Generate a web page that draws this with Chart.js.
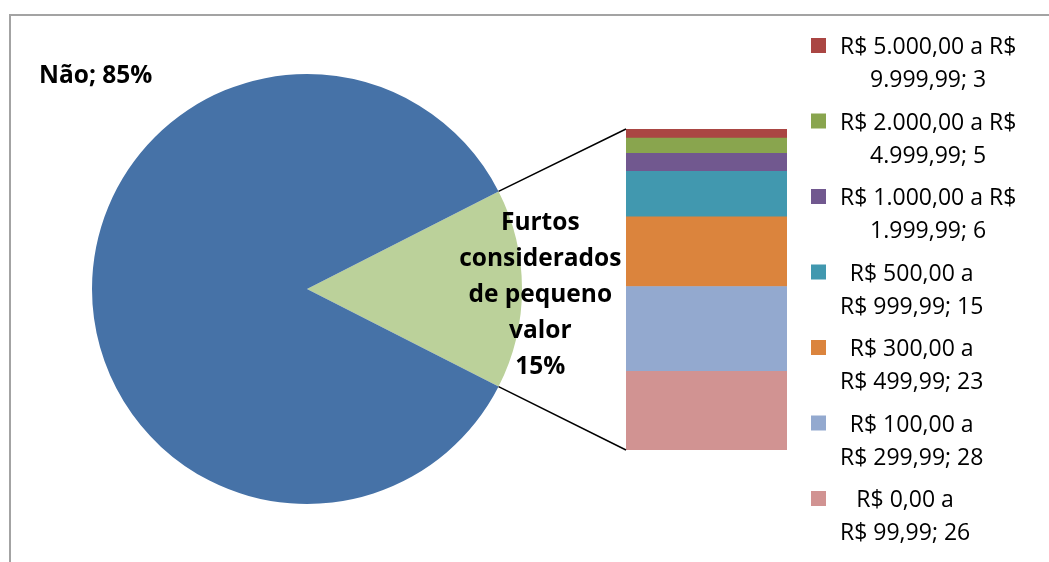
<!DOCTYPE html>
<html lang="pt-BR">
<head>
<meta charset="utf-8">
<title>Furtos de pequeno valor</title>
<script src="https://cdn.jsdelivr.net/npm/chart.js@4/dist/chart.umd.min.js"></script>
<style>
  html, body { margin: 0; padding: 0; background: #fff; }
  #wrap { position: relative; width: 1049px; height: 562px; overflow: hidden; }
  #frame {
    position: absolute; left: 9px; top: 14px; right: -4px; bottom: -4px;
    border-top: 2px solid #a3a3a3; border-left: 2px solid #a3a3a3;
  }
  canvas { position: absolute; left: 0; top: 0; }
</style>
</head>
<body>
<div id="wrap">
  <div id="frame"></div>
  <canvas id="pieChart" width="1049" height="562"></canvas>
  <canvas id="barChart" width="1049" height="562"></canvas>
</div>
<script>
// pizza principal (em %)
const pieLabels = ['Furtos considerados de pequeno valor', 'Não'];
const pieValues = [15, 85];
const pieColors = ['#BBD19A', '#4672A7'];

// detalhamento da fatia verde, de baixo para cima
const faixas = [
  ['R$ 0,00 a', 'R$ 99,99'],
  ['R$ 100,00 a', 'R$ 299,99'],
  ['R$ 300,00 a', 'R$ 499,99'],
  ['R$ 500,00 a', 'R$ 999,99'],
  ['R$ 1.000,00 a R$', '1.999,99'],
  ['R$ 2.000,00 a R$', '4.999,99'],
  ['R$ 5.000,00 a R$', '9.999,99']
];
const quantidades = [26, 28, 23, 15, 6, 5, 3];
const faixaColors = ['#D19392', '#93A9CF', '#DB843D', '#4198AF', '#71588F', '#89A54E', '#AA4643'];

const pieTotal = pieValues.reduce((a, b) => a + b, 0);
const qtdTotal = quantidades.reduce((a, b) => a + b, 0);

const boldFont = 'bold 24.5px "Open Sans"';
const legendFont = '23px "Open Sans"';

function wrapWords(ctx, text, maxWidth) {
  const lines = [];
  let line = '';
  text.split(' ').forEach(word => {
    const test = line ? line + ' ' + word : word;
    if (line && ctx.measureText(test).width > maxWidth) {
      lines.push(line);
      line = word;
    } else {
      line = test;
    }
  });
  if (line) lines.push(line);
  return lines;
}

// rótulos das fatias
const pieLabelsPlugin = {
  id: 'pieLabels',
  afterDatasetsDraw(chart) {
    const ctx = chart.ctx;
    const arc = chart.getDatasetMeta(0).data[0];
    ctx.save();
    ctx.fillStyle = '#000';
    ctx.font = boldFont;

    // "Não" fica fora da pizza, no canto superior esquerdo
    ctx.textAlign = 'left';
    ctx.fillText(pieLabels[1] + '; ' + Math.round(pieValues[1] / pieTotal * 100) + '%', 39, 83);

    // fatia verde: nome quebrado em linhas + porcentagem
    const lines = wrapWords(ctx, pieLabels[0], 172);
    lines.push(Math.round(pieValues[0] / pieTotal * 100) + '%');
    ctx.textAlign = 'center';
    const cx = arc.x + arc.outerRadius * 1.085;
    const firstBase = arc.y - 59;
    lines.forEach((l, i) => ctx.fillText(l, cx, firstBase + i * 36));
    ctx.restore();
  }
};

const pieChart = new Chart(document.getElementById('pieChart'), {
  type: 'pie',
  data: {
    labels: pieLabels,
    datasets: [{ data: pieValues, backgroundColor: pieColors, borderWidth: 0 }]
  },
  options: {
    responsive: false,
    animation: false,
    // centraliza a fatia verde no lado direito
    rotation: 90 - pieValues[0] / pieTotal * 180,
    layout: { padding: { left: 92, right: 527, top: 74, bottom: 58 } },
    plugins: { legend: { display: false }, tooltip: { enabled: false } }
  },
  plugins: [pieLabelsPlugin]
});

// linhas ligando a fatia verde à barra
const linksPlugin = {
  id: 'links',
  afterDraw(chart) {
    const arc = pieChart.getDatasetMeta(0).data[0];
    const top = chart.getDatasetMeta(faixas.length - 1).data[0];
    const bottom = chart.getDatasetMeta(0).data[0];
    const left = top.x - top.width / 2;
    const r = arc.outerRadius;
    const ctx = chart.ctx;
    ctx.save();
    ctx.strokeStyle = '#000';
    ctx.lineWidth = 1.5;
    ctx.beginPath();
    ctx.moveTo(arc.x + r * Math.cos(arc.startAngle), arc.y + r * Math.sin(arc.startAngle));
    ctx.lineTo(left, top.y);
    ctx.moveTo(arc.x + r * Math.cos(arc.endAngle), arc.y + r * Math.sin(arc.endAngle));
    ctx.lineTo(left, bottom.base);
    ctx.stroke();
    ctx.restore();
  }
};

// legenda à direita, em ordem inversa (maior faixa em cima)
const legendPlugin = {
  id: 'faixasLegend',
  afterDraw(chart) {
    const ctx = chart.ctx;
    ctx.save();
    ctx.font = legendFont;
    ctx.textAlign = 'center';
    const boxX = 811, boxSize = 15;
    for (let k = 0; k < faixas.length; k++) {
      const i = faixas.length - 1 - k;
      const y0 = 38 + k * 75.5;
      ctx.fillStyle = faixaColors[i];
      ctx.fillRect(boxX, y0, boxSize, boxSize);
      const lines = [faixas[i][0], faixas[i][1] + '; ' + quantidades[i]];
      const w = Math.max(...lines.map(l => ctx.measureText(l).width));
      const cx = boxX + boxSize + 14 + w / 2;
      ctx.fillStyle = '#000';
      lines.forEach((l, j) => ctx.fillText(l, cx, y0 + 16 + j * 33));
    }
    ctx.restore();
  }
};

const barChart = new Chart(document.getElementById('barChart'), {
  type: 'bar',
  data: {
    labels: [''],
    datasets: faixas.map((f, i) => ({
      label: f.join(' '),
      data: [quantidades[i]],
      backgroundColor: faixaColors[i],
      borderWidth: 0,
      barPercentage: 1,
      categoryPercentage: 1
    }))
  },
  options: {
    responsive: false,
    animation: false,
    layout: { padding: { left: 626, right: 262, top: 129, bottom: 112 } },
    scales: {
      x: { stacked: true, display: false },
      y: { stacked: true, display: false, min: 0, max: qtdTotal }
    },
    plugins: { legend: { display: false }, tooltip: { enabled: false } }
  },
  plugins: [linksPlugin, legendPlugin]
});
</script>
</body>
</html>
